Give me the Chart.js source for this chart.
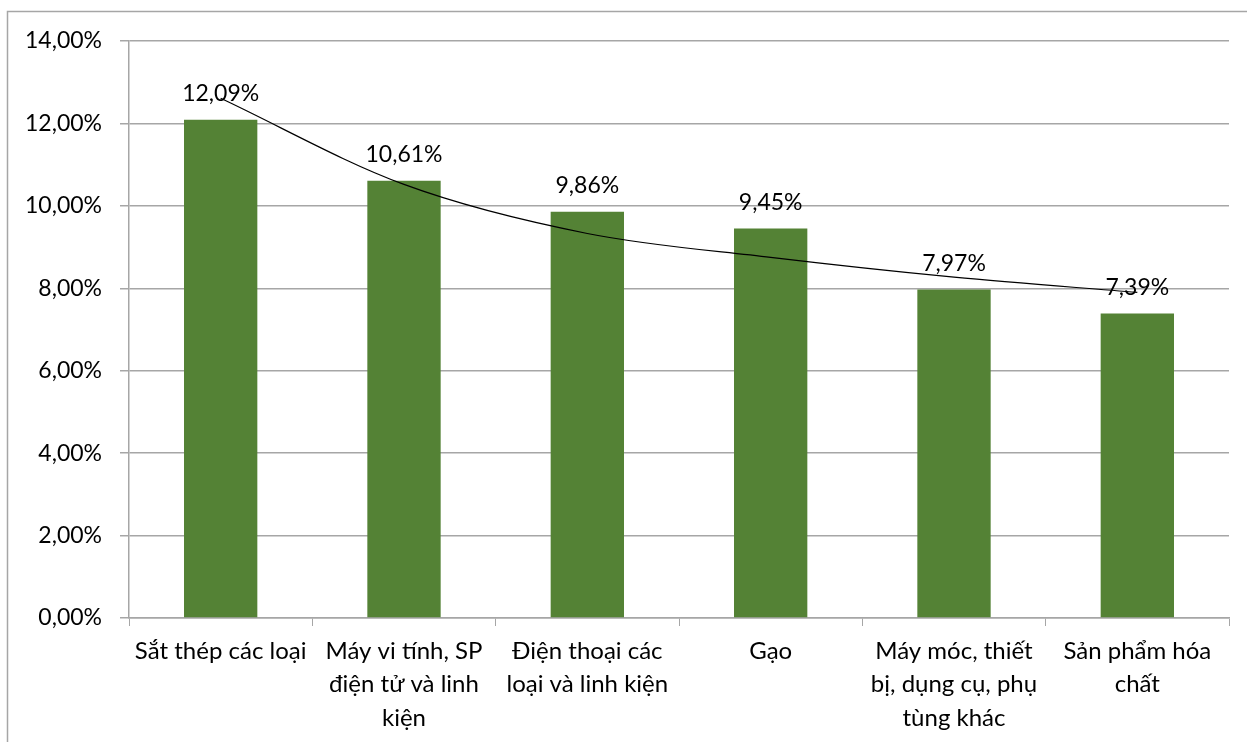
<!DOCTYPE html>
<html>
<head>
<meta charset="utf-8">
<script src="https://cdn.jsdelivr.net/npm/chart.js@4/dist/chart.umd.min.js"></script>
<style>
  html, body { margin: 0; padding: 0; background: #fff; }
  #wrap { width: 1247px; height: 742px; }
</style>
</head>
<body>
<div id="wrap"><canvas id="myChart" width="1247" height="742"></canvas></div>
<script>
// Danh mục hàng (mỗi dòng nhãn một phần tử)
const categories = [
    ['Sắt thép các loại'],
    ['Máy vi tính, SP', 'điện tử và linh', 'kiện'],
    ['Điện thoại các', 'loại và linh kiện'],
    ['Gạo'],
    ['Máy móc, thiết', 'bị, dụng cụ, phụ', 'tùng khác'],
    ['Sản phẩm hóa', 'chất']
];
const values = [12.09, 10.61, 9.86, 9.45, 7.97, 7.39];
// đường xu hướng
const trendValues = [12.61, 10.52, 9.33, 8.75, 8.27, 7.90];
const yTicks = [0, 2, 4, 6, 8, 10, 12, 14];

const fontFamily = 'Lato, "Open Sans", sans-serif';

function fmt(v) {
    return v.toFixed(2).replace('.', ',') + '%';
}

// khung viền ngoài
const frame = {
    id: 'frame',
    beforeDraw(chart) {
        const c = chart.ctx;
        c.save();
        c.strokeStyle = '#a6a6a6';
        c.lineWidth = 1.5;
        c.beginPath();
        c.moveTo(7.5, chart.height);
        c.lineTo(7.5, 11.5);
        c.lineTo(chart.width, 11.5);
        c.stroke();
        c.restore();
    }
};

// nhãn giá trị trên cột
const barLabels = {
    id: 'barLabels',
    afterDatasetsDraw(chart) {
        const c = chart.ctx;
        const meta = chart.getDatasetMeta(1);
        c.save();
        c.font = '23px ' + fontFamily;
        c.fillStyle = '#000';
        c.textAlign = 'center';
        c.textBaseline = 'middle';
        meta.data.forEach((bar, i) => {
            c.fillText(fmt(values[i]), bar.x, bar.y - 26);
        });
        c.restore();
    }
};

const ctx = document.getElementById('myChart');

new Chart(ctx, {
    data: {
        labels: categories,
        datasets: [{
            type: 'line',
            label: 'Xu hướng',
            data: trendValues,
            borderColor: '#000',
            borderWidth: 1.2,
            pointRadius: 0,
            cubicInterpolationMode: 'monotone',
            fill: false,
            order: 0
        }, {
            type: 'bar',
            label: 'Tỷ trọng',
            data: values,
            backgroundColor: '#548235',
            categoryPercentage: 1,
            barPercentage: 0.4,
            order: 1
        }]
    },
    options: {
        responsive: false,
        animation: false,
        layout: { padding: { top: 41, right: 18, left: 0, bottom: 0 } },
        plugins: {
            legend: { display: false },
            tooltip: { enabled: false }
        },
        scales: {
            x: {
                offset: true,
                grid: {
                    offset: true,
                    drawOnChartArea: false,
                    drawTicks: true,
                    tickLength: 8,
                    color: '#a6a6a6'
                },
                border: { color: '#a6a6a6', width: 1.5 },
                ticks: {
                    color: '#000',
                    padding: 9,
                    maxRotation: 0,
                    autoSkip: false,
                    font: { family: fontFamily, size: 24, lineHeight: 1.38 }
                },
                afterFit(scale) { scale.height = 124; }
            },
            y: {
                min: 0,
                max: 14,
                afterBuildTicks(scale) {
                    scale.ticks = yTicks.map(v => ({ value: v }));
                },
                grid: {
                    color: '#a6a6a6',
                    lineWidth: 1.5,
                    tickLength: 9
                },
                border: { color: '#a6a6a6', width: 1.5 },
                ticks: {
                    color: '#000',
                    padding: 18,
                    font: { family: fontFamily, size: 23 },
                    callback: v => fmt(v)
                },
                afterFit(scale) { scale.width = 129; }
            }
        }
    },
    plugins: [frame, barLabels]
});
</script>
</body>
</html>
